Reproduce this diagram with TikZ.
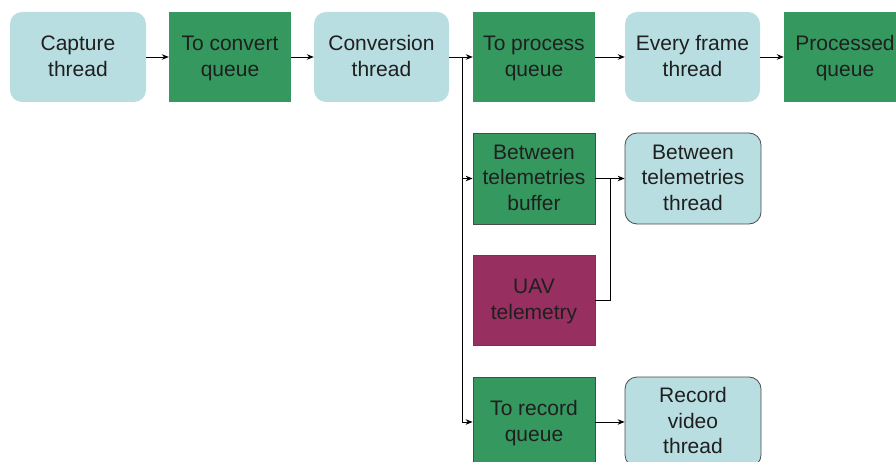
\documentclass[tikz,border=0pt]{standalone}
\usepackage{fontspec}
\setmainfont{Liberation Sans}
\usetikzlibrary{arrows.meta}
\definecolor{qgreen}{HTML}{35985F}
\definecolor{lblue}{HTML}{B8DEE1}
\definecolor{maroon}{HTML}{982F61}
\definecolor{bordergray}{HTML}{4A4A4A}
\newcommand{\st}{\rule[-0.25\baselineskip]{0pt}{\baselineskip}}
\begin{document}
\begin{tikzpicture}[x=1pt,y=-1pt,
  box/.style={minimum width=122pt, minimum height=90pt, inner sep=0pt, align=center, font=\fontsize{21}{25.5}\selectfont, text=black!88},
  thr/.style={box, fill=lblue, rounded corners=12pt, minimum width=136pt},
  que/.style={box, fill=qgreen},
  brd/.style={draw=bordergray, line width=0.8pt},
  arr/.style={-{Stealth[length=7pt,width=5.5pt]}, line width=0.9pt},
  ln/.style={line width=0.9pt}]
\clip (0,0) rectangle (896,462);
\useasboundingbox (0,0) rectangle (896,462);
\node[thr] (cap) at (78,57) {\st Capture\\thread\st};
\node[que] (tcq) at (230,57) {\st To convert\\queue\st};
\node[thr, minimum width=135pt] (conv) at (381.5,57) {\st Conversion\\thread\st};
\node[que] (tpq) at (534,57) {\st To process\\queue\st};
\node[thr, minimum width=135pt] (ef) at (692.5,57) {\st Every frame\\thread\st};
\node[que] (pq) at (845,57) {\st Processed\\queue\st};
\node[que, brd, minimum height=91pt] (btb) at (534,178.5) {\st Between\\telemetries\\buffer\st};
\node[thr, brd, minimum height=91pt] (btt) at (693,178.5) {\st Between\\telemetries\\thread\st};
\node[box, brd, fill=maroon] (uav) at (534,300) {\st UAV\\telemetry\st};
\node[que, brd] (trq) at (534,422) {\st To record\\queue\st};
\node[thr, brd] (rvt) at (693,422) {\st Record\\video\\thread\st};
\coordinate (j1) at (462,57);
\coordinate (j2) at (610,178.5);
\draw[arr] (cap) -- (tcq);
\draw[arr] (tcq) -- (conv);
\draw[arr] (conv) -- (tpq);
\draw[arr] (tpq) -- (ef);
\draw[arr] (ef) -- (pq);
\draw[arr] (j1) |- (btb.west);
\draw[arr] (j1) |- (trq.west);
\draw[arr] (btb) -- (btt);
\draw[ln] (uav.east) -| (j2);
\draw[arr] (trq) -- (rvt);
\end{tikzpicture}
\end{document}
